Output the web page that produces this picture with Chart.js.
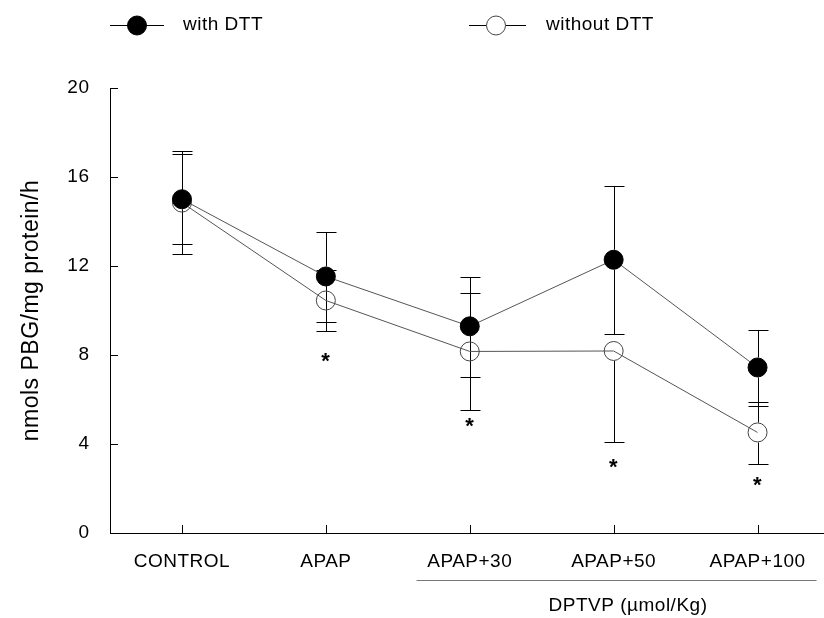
<!DOCTYPE html>
<html>
<head>
<meta charset="utf-8">
<script src="https://cdn.jsdelivr.net/npm/chart.js@4.4.1/dist/chart.umd.min.js"></script>
<style>
  html, body { margin: 0; padding: 0; background: #fff; overflow: hidden; width: 824px; height: 618px; }
  #wrap { position: absolute; left: 0; top: 0; width: 840px; height: 618px; }
</style>
</head>
<body>
<div id="wrap"><canvas id="c" width="840" height="618"></canvas></div>
<script>
// Treatment groups along the x axis
const groups = ['CONTROL', 'APAP', 'APAP+30', 'APAP+50', 'APAP+100'];

// PBG formation (nmols PBG/mg protein/h), mean and error-bar ends
const withDTT      = [15.0, 11.53, 9.29, 12.28, 7.44];
const withDTTHigh  = [17.18, 13.51, 11.5, 15.58, 9.14];
const withDTTLow   = [12.99, 9.47, 7.01, 8.96, 5.69];

const withoutDTT     = [14.85, 10.45, 8.16, 8.18, 4.52];
const withoutDTTHigh = [17.03, 11.84, 10.77, null, 5.87];
const withoutDTTLow  = [12.55, 9.06, 5.54, 4.09, 3.11];

// Significance marks (*) placed under the "without DTT" points
const starMarks = [null, 7.93, 4.97, 3.15, 2.32];

const yTicks = [0, 4, 8, 12, 16, 20];
const seriesNames = ['with DTT', 'without DTT'];
const groupCaption = 'DPTVP (µmol/Kg)';
const yTitle = 'nmols PBG/mg protein/h';

const FONT = '"Liberation Sans", Arial, sans-serif';
const MARK_R = 10;

const errorBars = [
  { high: withDTTHigh, low: withDTTLow },
  { high: withoutDTTHigh, low: withoutDTTLow }
];

const decorPlugin = {
  id: 'decor',
  beforeDraw(chart) {
    chart.ctx.letterSpacing = '0.5px';
  },
  beforeDatasetsDraw(chart) {
    const ctx = chart.ctx;
    const xs = chart.scales.x, ys = chart.scales.y;
    ctx.save();
    ctx.strokeStyle = '#000';
    ctx.lineWidth = 1;
    errorBars.forEach((eb, di) => {
      const vals = chart.data.datasets[di].data;
      vals.forEach((v, i) => {
        const x = Math.round(xs.getPixelForValue(i)) + 0.5;
        const yc = ys.getPixelForValue(v);
        [[eb.high[i], -1], [eb.low[i], 1]].forEach(([end, dir]) => {
          if (end == null) return;
          const ye = Math.round(ys.getPixelForValue(end)) + 0.5;
          ctx.beginPath();
          ctx.moveTo(x, yc + dir * MARK_R);
          ctx.lineTo(x, ye);
          ctx.moveTo(x - 10, ye);
          ctx.lineTo(x + 10, ye);
          ctx.stroke();
        });
      });
    });
    ctx.restore();
  },
  afterDraw(chart) {
    const ctx = chart.ctx;
    const xs = chart.scales.x, ys = chart.scales.y;
    const area = chart.chartArea;
    ctx.save();
    ctx.strokeStyle = '#000';
    ctx.lineWidth = 1;
    // inward tick marks on both axes
    yTicks.forEach(v => {
      const y = Math.round(ys.getPixelForValue(v)) + 0.5;
      ctx.beginPath();
      ctx.moveTo(area.left, y);
      ctx.lineTo(area.left + 8, y);
      ctx.stroke();
    });
    groups.forEach((g, i) => {
      const x = Math.round(xs.getPixelForValue(i)) + 0.5;
      ctx.beginPath();
      ctx.moveTo(x, area.bottom);
      ctx.lineTo(x, area.bottom - 8);
      ctx.stroke();
    });

    // significance stars
    ctx.fillStyle = '#000';
    ctx.font = 'bold 22px ' + FONT;
    ctx.textAlign = 'center';
    ctx.textBaseline = 'alphabetic';
    starMarks.forEach((v, i) => {
      if (v == null) return;
      ctx.fillText('*', xs.getPixelForValue(i), ys.getPixelForValue(v) + 11);
    });

    // bracket under the DPTVP dose groups
    const step = xs.getPixelForValue(1) - xs.getPixelForValue(0);
    const bx0 = xs.getPixelForValue(2) - 0.37 * step;
    const bx1 = xs.getPixelForValue(4) + 0.41 * step;
    ctx.strokeStyle = '#777';
    ctx.beginPath();
    ctx.moveTo(bx0, 580.5);
    ctx.lineTo(bx1, 580.5);
    ctx.stroke();
    ctx.font = '19px ' + FONT;
    ctx.textBaseline = 'middle';
    ctx.fillText(groupCaption, xs.getPixelForValue(3) + 0.1 * step, 606);

    // y axis title
    ctx.save();
    ctx.translate(32, (area.top + area.bottom) / 2);
    ctx.rotate(-Math.PI / 2);
    ctx.font = '23px ' + FONT;
    ctx.textAlign = 'center';
    ctx.textBaseline = 'middle';
    ctx.fillText(yTitle, 0, 0);
    ctx.restore();

    // legend
    const items = [
      { lx0: 110, lx1: 164, mx: 137, tx: 183, fill: '#000', stroke: '#000' },
      { lx0: 469, lx1: 526, mx: 496, tx: 546, fill: null, stroke: '#444' }
    ];
    const ly = 25;
    items.forEach((it, k) => {
      ctx.strokeStyle = '#000';
      ctx.lineWidth = 1;
      ctx.beginPath();
      ctx.moveTo(it.lx0, ly + 0.5);
      ctx.lineTo(it.lx1, ly + 0.5);
      ctx.stroke();
      ctx.beginPath();
      ctx.arc(it.mx, ly + 0.5, MARK_R - 0.5, 0, Math.PI * 2);
      ctx.fillStyle = it.fill || '#fff';
      ctx.fill();
      ctx.strokeStyle = it.stroke;
      ctx.stroke();
      ctx.fillStyle = '#000';
      ctx.font = '19px ' + FONT;
      ctx.textAlign = 'left';
      ctx.textBaseline = 'middle';
      ctx.fillText(seriesNames[k], it.tx, ly);
    });
    ctx.restore();
  }
};

new Chart(document.getElementById('c'), {
  type: 'line',
  data: {
    labels: groups,
    datasets: [
      {
        label: seriesNames[0],
        data: withDTT,
        borderColor: '#555',
        borderWidth: 1,
        tension: 0,
        pointRadius: MARK_R - 0.5,
        pointBorderWidth: 1,
        pointBackgroundColor: '#000',
        pointBorderColor: '#000'
      },
      {
        label: seriesNames[1],
        data: withoutDTT,
        borderColor: '#555',
        borderWidth: 1,
        tension: 0,
        pointRadius: MARK_R - 0.5,
        pointBorderWidth: 1,
        pointBackgroundColor: 'rgba(255,255,255,0)',
        pointBorderColor: '#444'
      }
    ]
  },
  options: {
    responsive: false,
    devicePixelRatio: 1,
    animation: false,
    layout: { padding: { top: 88, right: 7, left: 0, bottom: 0 } },
    plugins: { legend: { display: false }, tooltip: { enabled: false } },
    scales: {
      x: {
        type: 'category',
        offset: true,
        grid: { drawOnChartArea: false, drawTicks: false },
        border: { display: true, color: '#000', width: 1 },
        ticks: { color: '#000', font: { family: FONT, size: 19 }, padding: 17, maxRotation: 0, autoSkip: false },
        afterFit: s => { s.height = 85; }
      },
      y: {
        min: 0,
        max: 20,
        grid: { drawOnChartArea: false, drawTicks: false },
        border: { display: true, color: '#000', width: 1 },
        ticks: { color: '#000', font: { family: FONT, size: 19 }, padding: 20.5 },
        afterBuildTicks: s => { s.ticks = yTicks.map(v => ({ value: v })); },
        afterFit: s => { s.width = 110; }
      }
    }
  },
  plugins: [decorPlugin]
});
</script>
</body>
</html>
